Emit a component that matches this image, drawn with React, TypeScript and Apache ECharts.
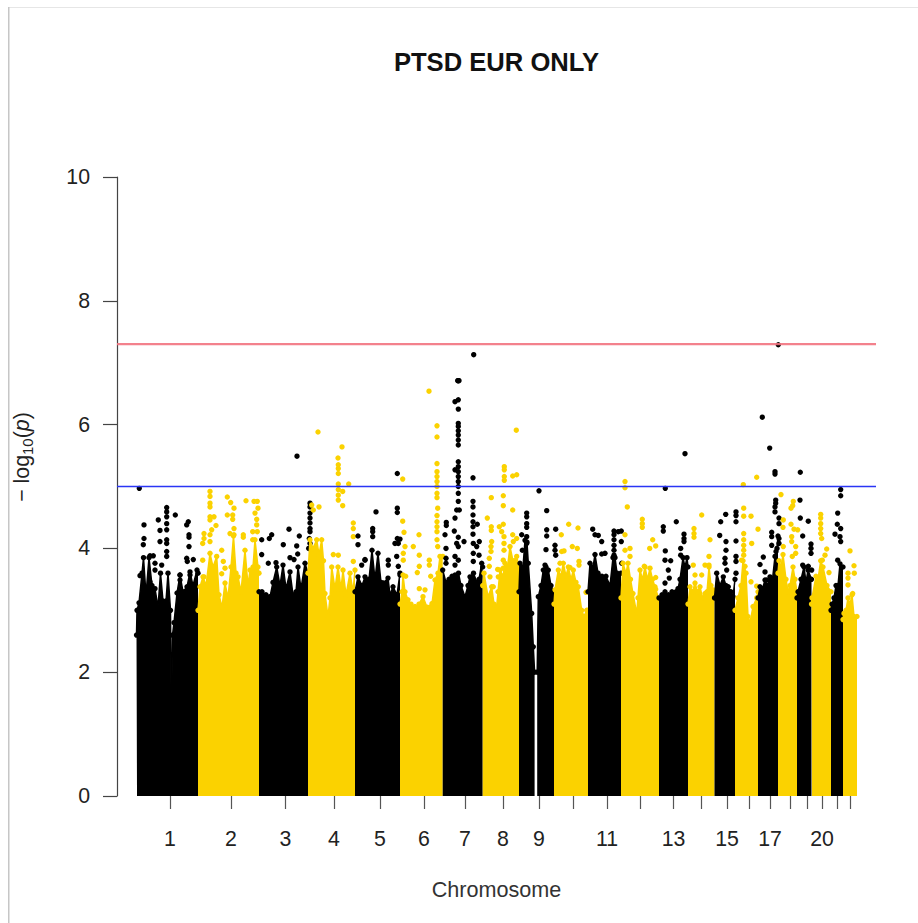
import React, { useEffect, useRef } from "react";
import * as echarts from "echarts";

const BLACK = "#000000";
const GOLD = "#fbd200";

const tickPositions = [170, 231, 285.5, 334, 380, 424, 465, 503, 539, 573, 607, 640, 673.5, 701, 727, 749, 770, 790, 807, 822, 837, 850];
const tickLabels = ["1", "2", "3", "4", "5", "6", "7", "8", "9", "", "11", "", "13", "", "15", "", "17", "", "", "20", "", ""];
const yTicks = [0, 2, 4, 6, 8, 10];
const genomeWide = 7.3;
const suggestive = 5;

const mass1 = [[136.5,2.6],[137,3.0],[139,3.12],[142,3.6],[143.5,3.85],[146,3.25],[149,3.85],[152,3.4],[155,3.35],[158,3.05],[160.5,3.6],[163,3.15],[166,3.15],[168,3.6],[170.5,3.0],[171.3,1.0],[171.7,1.0],[172.5,2.6],[174,2.8],[177,3.28],[180,3.57],[183,3.3],[187,3.38],[190,3.62],[193,3.4],[197,3.65],[198,3.6]];
const mass2 = [[198,3.0],[200,3.38],[203,3.54],[206,3.4],[210,3.92],[213,3.7],[216.7,3.87],[219,3.25],[222,3.05],[225,3.44],[228,3.2],[231,3.7],[233.5,4.2],[236,3.6],[238,3.54],[241,3.3],[245,3.97],[248,3.4],[250,3.65],[253,3.7],[255,4.14],[258,3.7],[259,3.6]];
const mass3 = [[259,3.3],[262,3.3],[266,3.25],[270,3.22],[273,3.45],[276.7,3.7],[280,3.4],[283,3.73],[286,3.35],[290,3.62],[293,3.25],[296,3.3],[298,3.7],[301,3.35],[305,3.76],[308,3.6]];
const mass4 = [[308,3.6],[310,4.14],[313,4.0],[316.7,4.14],[319,3.9],[321.7,4.14],[323.5,3.8],[325,3.27],[328,2.9],[330,3.2],[331.7,3.7],[335,3.35],[338,3.7],[341,3.35],[343,3.65],[346,3.25],[350,3.6],[353,3.3],[355,3.65]];
const mass5 = [[355,3.3],[358,3.54],[362,3.4],[365,3.54],[369,3.5],[372,3.97],[375,3.5],[378,3.92],[381,3.45],[383.5,3.44],[388,3.52],[390,3.25],[393,3.38],[397,3.25],[400,3.6]];
const mass6 = [[400,3.1],[402,3.3],[403,3.57],[405,3.3],[408,3.17],[411,3.1],[415,3.06],[419,3.1],[423,3.22],[427,3.05],[432,3.11],[435,3.49],[438,3.6],[440,3.87],[442.7,3.87]];
const mass7 = [[442.7,3.65],[446,3.45],[449,3.5],[452,3.55],[455,3.57],[458.5,3.6],[461,3.4],[465,3.22],[468,3.4],[470,3.54],[473.5,3.6],[477,3.45],[479,3.5],[481.7,3.76],[482.7,3.7]];
const mass8 = [[482.7,3.4],[484,3.6],[488,3.22],[491.7,3.38],[494,3.1],[496.7,3.06],[498,3.3],[500,3.65],[503,3.55],[505,3.76],[507.5,3.7],[510,4.03],[513,3.8],[516.7,3.87],[519,3.7]];
const mass9 = [[519,3.3],[520,3.76],[523,3.7],[525,4.13],[527,4.1],[528.3,3.76],[531.7,2.95],[533.3,2.41],[534.6,2.0],[536,null],[537.2,2.0],[538.3,3.22],[541,3.4],[543.3,3.65],[546,3.7],[548.3,3.65],[551,3.4],[554,3.27]];
const mass10 = [[554,3.1],[555,3.33],[558.3,3.65],[561,3.55],[563.3,3.76],[566,3.55],[568.3,3.7],[571,3.5],[573.3,3.65],[576,3.45],[578.3,3.38],[581.7,3.0],[584,2.9],[586.7,3.0],[588,3.0]];
const mass11 = [[588,3.3],[590,3.76],[593,3.7],[595,3.9],[598,3.6],[602,3.55],[606,3.55],[610,3.4],[613,3.85],[615,3.85],[617,3.6],[621,3.6]];
const mass12 = [[621,3.2],[623,3.76],[626,3.6],[628,3.76],[630.5,3.5],[633,3.27],[636.7,2.95],[638,3.2],[640,3.65],[642.5,3.5],[645,3.7],[647.5,3.5],[650,3.68],[652.5,3.5],[655,3.38],[659,3.17]];
const mass13 = [[659,3.2],[662,3.25],[665,3.3],[668.5,3.25],[672,3.3],[676,3.3],[678,3.35],[680,3.5],[683,3.85],[685,3.7],[687,3.85],[688,3.7]];
const mass14 = [[688,3.1],[690,3.38],[692.5,3.3],[695,3.44],[697.5,3.3],[700,3.38],[702.5,3.2],[705,3.27],[707,3.3],[709,3.7],[711,3.4],[713.3,3.33],[714.5,3.2]];
const mass15 = [[714.5,3.2],[716.7,3.6],[720,3.4],[723.3,3.54],[726,3.4],[728.3,3.38],[731,3.3],[733,3.22],[735,3.5]];
const mass16 = [[735,3.0],[738,3.2],[741,3.4],[743,3.8],[746,3.6],[748,2.9],[750,2.8],[753,3.06],[756.7,3.2],[758,3.3]];
const mass17 = [[758,3.2],[760,3.38],[762.5,3.35],[765,3.49],[767.5,3.4],[770,3.54],[772.5,3.5],[775,3.87],[777,4.0],[778,4.2]];
const mass18 = [[778,3.6],[779,3.8],[781,3.7],[783,3.9],[786,3.5],[788,3.3],[790,3.4],[793,3.7],[795,3.5],[797,3.3]];
const mass19 = [[797,3.2],[798,3.3],[801,3.5],[804,3.7],[806,3.45],[808,3.65],[811.5,3.5]];
const mass20 = [[811.5,3.1],[812,3.2],[816,3.55],[818,3.5],[820.7,3.8],[823,3.7],[827,3.4],[831,3.3]];
const mass21 = [[831,3.0],[832,3.1],[834,3.2],[836,3.4],[838,3.4],[840,3.75],[843,3.7]];
const mass22 = [[843,2.85],[844,2.95],[846,3.0],[848,3.2],[850,3.1],[852,3.25],[854,2.9],[857,2.9]];

const dots1 = [[139.3,4.97],[144,4.38],[144,4.16],[143.3,4.06],[158.3,4.46],[160,4.29],[160,4.11],[166.7,4.66],[166.7,4.59],[166.7,4.51],[166.7,4.40],[166.7,4.30],[166.7,4.14],[166.7,4.08],[166.7,3.95],[166.7,3.87],[175.3,4.54],[188.3,4.43],[186.7,4.38],[189,4.22],[189,4.18],[189,4.03],[186.7,3.84],[193.3,3.82],[187.3,3.79],[150,3.88],[153.3,3.88],[140,3.56],[155,3.76],[161.7,3.73],[155,3.65],[150,3.46],[180,3.57],[180,3.49],[190,3.57]];
const dots2 = [[210,4.92],[210,4.84],[210,4.73],[210,4.67],[210,4.51],[214,4.51],[210,4.46],[216,4.37],[211.7,4.30],[204,4.24],[204,4.16],[202.7,4.08],[210,4.22],[210,4.11],[227.3,4.83],[230.7,4.74],[234,4.65],[227.3,4.54],[232.7,4.54],[232.7,4.47],[234,4.32],[230,4.24],[234,4.22],[246,4.77],[254,4.76],[257.3,4.76],[258,4.65],[255,4.57],[256.7,4.47],[256.7,4.38],[252.7,4.27],[257.3,4.27],[243.3,4.22],[243.3,4.18],[252.7,4.14],[221.7,3.97],[223.3,3.79],[225,3.68],[221.7,3.59],[204,3.54],[202.7,3.81]];
const dots3 = [[297,5.49],[261.7,4.14],[261.7,3.9],[269.3,4.16],[271.7,4.22],[289,4.31],[283.3,4.06],[299.3,4.2],[296.7,4.04],[297.7,3.91],[290,3.85],[294,3.82],[268.3,3.76],[276,3.77],[310,4.73],[310,4.67],[310,4.57],[310,4.49],[310,4.41],[310,4.32],[310,4.27],[309.3,4.16],[310,4.08],[308.7,4.0]];
const dots4 = [[318,5.88],[342,5.64],[338,5.46],[338.3,5.35],[338.3,5.29],[338.3,5.21],[338.3,5.04],[338.3,4.95],[338.3,4.86],[338.3,4.78],[342.7,4.92],[342.7,4.69],[348.7,5.04],[311.7,4.70],[313.3,4.62],[319,4.67],[353.3,4.41],[353.3,4.32],[353.3,4.19],[333.3,3.9],[338.3,3.89],[353.3,3.79]];
const dots5 = [[397.3,5.21],[376,4.59],[397.3,4.65],[397.3,4.58],[372.7,4.32],[372.7,4.27],[372.7,4.19],[397.3,4.16],[400,4.15],[395,4.08],[398.3,4.08],[365,3.81],[361.7,3.73],[388.3,3.81],[388.3,3.73],[396.7,3.87],[398.3,3.71],[400,3.57],[358,4.2],[358,4.06],[365,3.82]];
const dots6 = [[429,6.54],[437,5.98],[437,5.80],[437,5.37],[437,5.24],[437,5.16],[437,5.08],[437,5.0],[437,4.89],[437,4.82],[437.7,4.65],[437,4.53],[437,4.43],[437,4.35],[437,4.27],[437,4.14],[437.7,4.03],[402.7,5.12],[402.7,4.44],[404,4.26],[419,4.22],[413.3,4.03],[405,4.03],[419.3,3.89],[403.3,3.92],[403.3,3.81],[429.3,3.81],[429.3,3.73],[419.3,3.71],[417.3,3.61],[419.3,3.35],[425,3.33],[430.7,3.55],[405.7,3.55]];
const dots7 = [[473.7,7.13],[458.3,6.71],[457.7,6.71],[459,6.71],[455,6.37],[458.3,6.40],[458.3,6.25],[458.3,6.02],[458.3,5.97],[458.3,5.9],[458.3,5.83],[458.3,5.75],[458.3,5.67],[458.3,5.4],[458.3,5.32],[455,5.27],[458.3,5.24],[458.3,5.16],[458.3,5.08],[458.3,5.0],[458.3,4.89],[458.3,4.76],[456.7,4.62],[459.3,4.62],[455,4.49],[446.3,4.42],[446.3,4.37],[454.3,4.28],[445,4.22],[458.3,4.18],[456.7,4.08],[464,4.11],[458.3,4.03],[446,4.0],[446,3.84],[446,3.76],[455,3.87],[458.3,3.81],[455,3.73],[473,5.14],[473,4.76],[473,4.67],[473,4.54],[473,4.43],[473,4.35],[473,4.23],[477.3,4.39],[473.3,4.08],[473.3,3.92],[473.3,3.79],[479.3,4.11],[476.7,4.03],[479,3.89]];
const dots8 = [[516.3,5.91],[504.3,5.32],[504.3,5.27],[504.3,5.16],[504.3,5.1],[512.7,5.17],[516.7,5.19],[503.3,4.85],[491.3,4.82],[503.3,4.69],[512.7,4.62],[487.3,4.49],[491.3,4.35],[491.3,4.29],[503.3,4.39],[499.3,4.35],[501.7,4.27],[504,4.19],[504,4.08],[504,3.97],[512.7,4.22],[516.7,4.16],[513.3,4.11],[491.7,4.11],[491,4.03],[491,3.95],[489.3,3.84],[503.3,3.81],[489.3,3.71],[497.7,3.66],[503.3,3.68],[490,3.54],[498.3,3.54],[493.3,3.38]];
const dots9 = [[539,4.93],[546.7,4.61],[546.7,4.3],[546.7,4.2],[555.7,4.31],[526.7,4.57],[526.7,4.51],[526.7,4.4],[526.7,4.34],[526.7,4.19],[526.7,4.08],[521.7,4.22],[522.3,3.97],[546,3.98],[555,4.05],[555,3.97],[555.7,3.89],[545,3.73]];
const dots10 = [[568.7,4.39],[578,4.33],[561.3,4.22],[561.7,3.95],[564,3.96],[572.3,4.03],[577.3,4.0],[579,3.79],[579,3.73],[560,3.76],[570,3.69],[586,3.29]];
const dots11 = [[592.7,4.31],[595,4.22],[598.3,4.21],[601.7,4.11],[605,3.92],[601.7,3.91],[614,4.28],[614,4.22],[614,4.14],[614,4.05],[614,3.97],[614,3.89],[618.3,4.27],[621.3,4.28],[621.3,4.11],[621.7,3.76]];
const dots12 = [[625,5.08],[625,4.98],[627.3,4.67],[642.3,4.47],[642.3,4.4],[642.3,4.34],[652.7,4.14],[655.7,4.04],[649.7,4.0],[625,4.22],[625,3.97],[630,4.0],[630,3.87],[655.7,3.53],[655.7,3.34],[644.3,3.71]];
const dots13 = [[665.3,4.97],[685,5.53],[663.3,4.35],[663.3,4.28],[676.3,4.43],[665.3,3.96],[665,3.81],[670.7,3.8],[668.3,3.65],[669.3,3.52],[665,3.44],[684,4.23],[684,4.16],[684,4.11],[680.7,4.0],[680.7,3.89]];
const dots14 = [[701.7,4.54],[694,4.32],[694,4.24],[694,4.18],[710,4.14],[709,3.87],[693.3,3.73],[705,3.73],[709,3.73],[695,3.57],[701.7,3.57]];
const dots15 = [[736,4.59],[736,4.53],[736,4.43],[725.7,4.55],[720.7,4.43],[719.7,4.21],[736,4.12],[726,4.11],[726,3.97],[725,3.84],[725,3.76],[736,3.87],[736,3.79],[726.7,3.65],[736,3.6]];
const dots16 = [[743.3,5.03],[756.7,5.15],[743.7,4.65],[743.7,4.52],[751,4.52],[758,4.31],[743.7,4.24],[751.7,4.08],[743.7,4.14],[743.7,4.05],[743.7,3.97],[743.7,3.89],[741.7,3.81],[745,3.71],[751,3.46],[756.7,3.39]];
const dots17 = [[778.3,7.29],[762.3,6.12],[769.7,5.62],[775,5.24],[775,5.2],[775.7,4.78],[775.7,4.73],[775,4.67],[775,4.59],[779,4.49],[779,4.4],[771.7,4.26],[771.7,4.19],[771.7,4.05],[776,3.95],[779,4.16],[779,4.08],[763.3,3.86],[760,3.74],[765,3.62],[766.7,3.49]];
const dots18 = [[781,4.87],[783.3,4.46],[783,4.34],[793.3,4.76],[792.7,4.69],[791,4.65],[791,4.39],[794,4.31],[797.7,4.3],[791.7,4.19],[791.7,4.11],[795.7,4.03],[795.7,3.92],[792.3,3.87],[783.3,4.03]];
const dots19 = [[800.3,5.23],[800,4.78],[800.3,4.49],[808.3,4.44],[802.7,4.2],[811,4.07],[811,4.0],[811,3.92],[802.7,3.73],[808.3,3.71],[811.7,3.65]];
const dots20 = [[820.7,4.55],[820.7,4.49],[820.7,4.4],[820.7,4.32],[820.7,4.24],[821.7,4.16],[826.7,3.99],[825,3.89],[822.3,3.81],[829,3.61]];
const dots21 = [[840.7,4.95],[840.7,4.85],[837.7,4.57],[837.3,4.39],[840.7,4.32],[835,4.23],[840,4.19],[840.7,4.11],[837.7,3.81]];
const dots22 = [[850,3.96],[848,3.6],[848,3.52],[848,3.41],[854,3.72],[854.3,3.6],[852.7,3.27]];

const masses = [mass1, mass2, mass3, mass4, mass5, mass6, mass7, mass8, mass9, mass10, mass11, mass12, mass13, mass14, mass15, mass16, mass17, mass18, mass19, mass20, mass21, mass22];
const dotLists = [dots1, dots2, dots3, dots4, dots5, dots6, dots7, dots8, dots9, dots10, dots11, dots12, dots13, dots14, dots15, dots16, dots17, dots18, dots19, dots20, dots21, dots22];

const FONT = "'Liberation Sans', Arial, sans-serif";

export default function App() {
  const ref = useRef<HTMLDivElement>(null);
  useEffect(() => {
    const chart = echarts.init(ref.current!, null, { renderer: "svg" });
    const series: any[] = [];
    masses.forEach((m, i) => {
      const color = i % 2 === 0 ? BLACK : GOLD;
      series.push({
        type: "line", data: m, symbol: "circle", symbolSize: 5.4, showSymbol: true, showAllSymbol: true,
        lineStyle: { color, width: 1.5 }, itemStyle: { color }, areaStyle: { color, opacity: 1, origin: "start" },
        silent: true, z: 3 + i * 0.01,
      });
      series.push({ type: "scatter", data: dotLists[i], symbol: "circle", symbolSize: 5.4, itemStyle: { color, opacity: 1 }, silent: true, z: 3 + i * 0.01 });
    });
    series.push({ type: "line", data: [[117, genomeWide], [876, genomeWide]], symbol: "none", lineStyle: { color: "#f2737f", width: 2.2, opacity: 0.9 }, silent: true, z: 5 });
    series.push({ type: "line", data: [[117, suggestive], [876, suggestive]], symbol: "none", lineStyle: { color: "#2a35f5", width: 1.5 }, silent: true, z: 5 });
    chart.setOption({
      animation: false,
      backgroundColor: "#ffffff",
      title: {
        text: "PTSD EUR ONLY", left: 491.5, top: 44, textAlign: "center",
        textStyle: { fontFamily: FONT, fontWeight: "bold", fontSize: 25.6, color: "#111" },
      },
      grid: { left: 117, top: 177, width: 759, height: 619, containLabel: false },
      xAxis: {
        type: "value", min: 117, max: 876, splitLine: { show: false },
        axisLine: { show: false },
        axisTick: { show: true, length: 13, customValues: tickPositions, lineStyle: { color: "#555", width: 1.2 } },
        axisLabel: {
          show: true, margin: 32, color: "#222", fontFamily: FONT, fontSize: 21.3, hideOverlap: false,
          customValues: tickPositions.filter((_, i) => tickLabels[i] !== ""),
          formatter: (v: number) => tickLabels[tickPositions.indexOf(v)],
        },
        name: "Chromosome", nameLocation: "middle", nameGap: 82,
        nameTextStyle: { fontFamily: FONT, fontSize: 21.6, color: "#333" },
      },
      yAxis: {
        type: "value", min: 0, max: 10, interval: 2, splitLine: { show: false },
        axisLine: { show: true, lineStyle: { color: "#444", width: 1.2 } },
        axisTick: { show: true, length: 14, lineStyle: { color: "#444", width: 1.2 } },
        axisLabel: { margin: 27, color: "#222", fontFamily: FONT, fontSize: 21.3, customValues: yTicks },
      },
      graphic: [
        { type: "rect", shape: { x: 8, y: 7, width: 910, height: 1 }, style: { fill: "#e6e6e6" }, silent: true },
        { type: "rect", shape: { x: 8, y: 7, width: 1.5, height: 916 }, style: { fill: "#c6c6c6" }, silent: true },
        {
          type: "text", x: 22, y: 457, rotation: Math.PI / 2, silent: true,
          style: {
            text: "{a|− log}{s|10}{a|(}{i|p}{a|)}", align: "center", verticalAlign: "middle", fill: "#222",
            rich: {
              a: { fontFamily: FONT, fontSize: 21.3, fill: "#222", lineHeight: 26 },
              s: { fontFamily: FONT, fontSize: 15, fill: "#222", verticalAlign: "bottom", lineHeight: 22 },
              i: { fontFamily: FONT, fontStyle: "italic", fontSize: 21.3, fill: "#222", lineHeight: 26 },
            },
          },
        },
      ],
      series,
    });
    return () => chart.dispose();
  }, []);
  return <div ref={ref} style={{ position: "absolute", left: 0, top: 0, width: 918, height: 923 }} />;
}
